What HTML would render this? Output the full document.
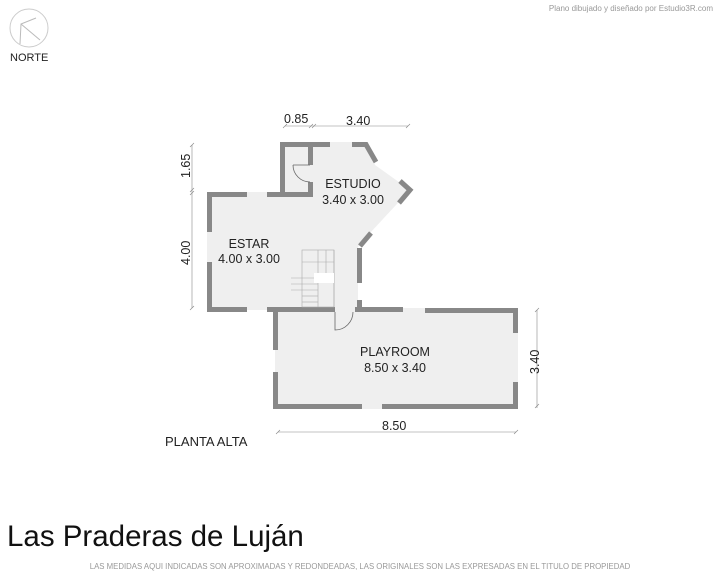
<!DOCTYPE html>
<html><head><meta charset="utf-8"><style>
html,body{margin:0;padding:0;background:#fff;}
svg{display:block;font-family:"Liberation Sans",sans-serif;}
</style></head><body>
<svg width="720" height="574" viewBox="0 0 720 574" xmlns="http://www.w3.org/2000/svg">
<rect width="720" height="574" fill="#fff"/>
<!-- north -->
<circle cx="29" cy="28" r="19" fill="none" stroke="#ccc" stroke-width="1"/>
<path d="M20 44 L21 24 L36 18 M21 24 L40 40" fill="none" stroke="#bbb" stroke-width="1"/>
<text x="10" y="61" font-size="11" fill="#222">NORTE</text>
<text x="713" y="11" font-size="8" fill="#999" text-anchor="end">Plano dibujado y diseñado por Estudio3R.com</text>

<!-- floors -->
<g fill="#efefef">
<polygon points="207,192 283,192 283,142 352,142 368,142 375,165 410,190 370,233 358,247 358,310 207,310"/>
<rect x="275" y="308" width="243" height="101"/>
</g>

<!-- walls -->
<g fill="#888">
<rect x="207" y="192" width="5" height="40"/>
<rect x="207" y="262" width="5" height="50"/>
<rect x="207" y="192" width="40" height="5"/>
<rect x="267" y="192" width="46" height="5"/>
<rect x="280" y="142" width="5" height="55"/>
<rect x="280" y="142" width="50" height="5"/>
<rect x="308" y="142" width="5" height="23"/>
<rect x="308" y="182" width="5" height="15"/>
<rect x="207" y="307" width="40" height="5"/>
<rect x="267" y="307" width="68" height="5"/>
<rect x="357" y="248" width="5" height="35"/>
<rect x="357" y="300" width="5" height="12"/>
<rect x="355" y="307" width="48" height="5"/>
<rect x="425" y="308" width="93" height="5"/>
<rect x="513" y="308" width="5" height="25"/>
<rect x="513" y="382" width="5" height="27"/>
<rect x="273" y="404" width="89" height="5"/>
<rect x="382" y="404" width="136" height="5"/>
<rect x="273" y="308" width="5" height="42"/>
<rect x="273" y="372" width="5" height="37"/>
</g>
<g fill="none" stroke="#888" stroke-width="5" stroke-linecap="butt">
<polyline points="352,144.5 366,144.5 376,162"/>
<polyline points="400,181 410,190 399,203"/>
<line x1="371" y1="233" x2="360" y2="246"/>
</g>
<!-- doors -->
<g fill="none" stroke="#666" stroke-width="0.8">
<path d="M293 165 L310 165 M293 165 A17 17 0 0 0 310 182"/>
<path d="M335 312 L335 330 A18 18 0 0 0 353 312"/>
</g>
<!-- stairs -->
<g stroke="#aaa" stroke-width="0.6" fill="none">
<rect x="302" y="250" width="32" height="57"/>
<line x1="318" y1="250" x2="318" y2="307"/>
<line x1="326" y1="250" x2="326" y2="280"/>
<line x1="302" y1="262" x2="334" y2="262"/>
<line x1="291" y1="278" x2="318" y2="278"/>
<line x1="291" y1="284" x2="318" y2="284"/>
<line x1="291" y1="290" x2="318" y2="290"/>
<line x1="302" y1="296" x2="318" y2="296"/>
<line x1="302" y1="302" x2="318" y2="302"/>
<line x1="334" y1="250" x2="334" y2="307"/>
</g>
<rect x="314" y="273" width="20" height="10" fill="#fff"/>

<!-- labels -->
<g font-size="12.5" fill="#222" text-anchor="middle">
<text x="353" y="188">ESTUDIO</text>
<text x="353" y="204">3.40 x 3.00</text>
<text x="249" y="248">ESTAR</text>
<text x="249" y="263">4.00 x 3.00</text>
<text x="395" y="356">PLAYROOM</text>
<text x="395" y="372">8.50 x 3.40</text>
</g>

<!-- dimensions -->
<g stroke="#888" stroke-width="0.6" fill="none">
<line x1="285" y1="126" x2="408" y2="126"/>
<line x1="283" y1="128" x2="287" y2="124"/><line x1="309" y1="128" x2="313" y2="124"/><line x1="312" y1="128" x2="316" y2="124"/><line x1="406" y1="128" x2="410" y2="124"/>
<line x1="192" y1="145" x2="192" y2="308"/>
<line x1="190" y1="147" x2="194" y2="143"/><line x1="190" y1="192" x2="194" y2="188"/><line x1="190" y1="195" x2="194" y2="191"/><line x1="190" y1="310" x2="194" y2="306"/>
<line x1="537" y1="310" x2="537" y2="408"/>
<line x1="535" y1="312" x2="539" y2="308"/><line x1="535" y1="408" x2="539" y2="404"/>
<line x1="278" y1="432" x2="516" y2="432"/>
<line x1="276" y1="434" x2="280" y2="430"/><line x1="514" y1="434" x2="518" y2="430"/>
</g>
<g font-size="12.5" fill="#222">
<text x="284" y="123">0.85</text>
<text x="346" y="125">3.40</text>
<text x="382" y="430">8.50</text>
<text transform="translate(190,178) rotate(-90)">1.65</text>
<text transform="translate(190,265) rotate(-90)">4.00</text>
<text transform="translate(539,374) rotate(-90)">3.40</text>
<text x="165" y="446" font-size="13">PLANTA ALTA</text>
</g>
<text x="7" y="546" font-size="29.5" fill="#111">Las Praderas de Luján</text>
<text x="360" y="569" font-size="7.8" fill="#999" text-anchor="middle">LAS MEDIDAS AQUI INDICADAS SON APROXIMADAS Y REDONDEADAS, LAS ORIGINALES SON LAS EXPRESADAS EN EL TITULO DE PROPIEDAD</text>
</svg>
</body></html>
